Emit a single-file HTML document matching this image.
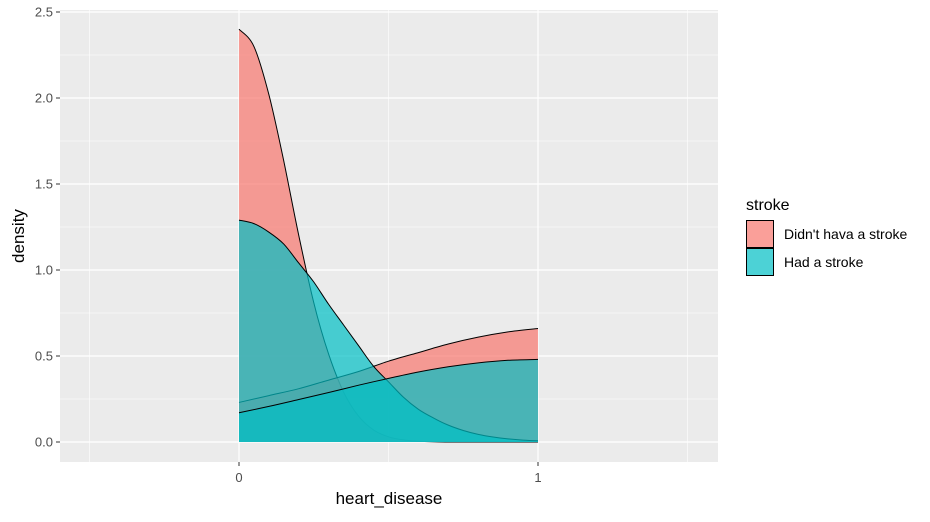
<!DOCTYPE html>
<html><head><meta charset="utf-8"><style>
body{margin:0;background:#fff;font-family:"Liberation Sans",sans-serif}
</style></head><body>
<svg id="chart" width="930" height="517" xmlns="http://www.w3.org/2000/svg" font-family="Liberation Sans, sans-serif">
<rect x="0" y="0" width="930" height="517" fill="#fff"/>
<rect x="60" y="10" width="658" height="452" fill="#EBEBEB"/>
<g id="grid"></g><g id="marks"></g><g id="axes"></g>
<g>
<text x="746" y="210" font-size="16" fill="#000">stroke</text>
<rect x="746.5" y="220.5" width="27" height="27" fill="#F8766D" fill-opacity="0.7" stroke="#000" stroke-width="1"/>
<rect x="746.5" y="248.5" width="27" height="27" fill="#00BFC4" fill-opacity="0.7" stroke="#000" stroke-width="1"/>
<text x="784" y="239" font-size="14" fill="#000">Didn't hava a stroke</text>
<text x="784" y="267" font-size="14" fill="#000">Had a stroke</text>
</g>
</svg>
<script>
const xTicks=[0,1];
const xMinor=[-0.5,0.5,1.5];
const yTicks=[0,0.5,1,1.5,2,2.5];
const yTickLabels=["0.0","0.5","1.0","1.5","2.0","2.5"];
const yMinor=[0.25,0.75,1.25,1.75,2.25];
const xA=[0,0.05,0.1,0.15,0.2,0.25,0.3,0.35,0.4,0.45,0.5,0.55,0.6,0.65,0.7,0.75,0.8,0.85,0.9,0.95,1];
const redA=[2.40,2.30,2.02,1.63,1.20,0.81,0.51,0.29,0.15,0.07,0.03,0.012,0.004,0.001,0,0,0,0,0,0,0];
const tealA=[1.29,1.27,1.22,1.15,1.04,0.93,0.80,0.68,0.56,0.44,0.35,0.26,0.19,0.14,0.098,0.067,0.044,0.029,0.018,0.011,0.007];
const xB=[0,0.1,0.2,0.3,0.4,0.5,0.6,0.7,0.8,0.9,1];
const redB=[0.23,0.27,0.31,0.36,0.41,0.47,0.52,0.57,0.61,0.64,0.66];
const tealB=[0.17,0.207,0.247,0.288,0.33,0.37,0.407,0.437,0.46,0.475,0.48];
const X=v=>239+v*299, Y=v=>442-v*172;
const NS="http://www.w3.org/2000/svg";
function mk(t,a,p){const e=document.createElementNS(NS,t);for(const k in a)e.setAttribute(k,a[k]);p.appendChild(e);return e;}
const grid=document.getElementById('grid'),marks=document.getElementById('marks'),axes=document.getElementById('axes');
yMinor.forEach(v=>{const l=mk('line',{x1:60,x2:718,y1:Y(v),y2:Y(v),stroke:'#fff','stroke-width':0.6},grid);

});
xMinor.forEach(v=>{const l=mk('line',{x1:X(v),x2:X(v),y1:10,y2:462,stroke:'#fff','stroke-width':0.6},grid);

});
yTicks.forEach((v,i)=>{const l=mk('line',{x1:60,x2:718,y1:Y(v),y2:Y(v),stroke:'#fff','stroke-width':1.2},grid);


const t=mk('line',{x1:56,x2:60,y1:Y(v),y2:Y(v),stroke:'#333','stroke-width':1},axes);


const tx=mk('text',{x:53,y:Y(v)+4.5,'text-anchor':'end','font-size':13,fill:'#4D4D4D'},axes);tx.textContent=yTickLabels[i];

});
xTicks.forEach(v=>{const l=mk('line',{x1:X(v),x2:X(v),y1:10,y2:462,stroke:'#fff','stroke-width':1.2},grid);


const t=mk('line',{x1:X(v),x2:X(v),y1:462,y2:466,stroke:'#333','stroke-width':1},axes);


const tx=mk('text',{x:X(v),y:482,'text-anchor':'middle','font-size':13,fill:'#4D4D4D'},axes);tx.textContent=String(v);

});
function smooth(P){
  let d='';
  for(let i=0;i<P.length-1;i++){
    const p0=P[Math.max(0,i-1)],p1=P[i],p2=P[i+1],p3=P[Math.min(P.length-1,i+2)];
    const c1=[p1[0]+(p2[0]-p0[0])/6,p1[1]+(p2[1]-p0[1])/6];
    const c2=[p2[0]-(p3[0]-p1[0])/6,p2[1]-(p3[1]-p1[1])/6];
    d+=' C'+c1.map(n=>n.toFixed(1)).join(',')+' '+c2.map(n=>n.toFixed(1)).join(',')+' '+p2.map(n=>n.toFixed(1)).join(',');
  }
  return d;
}
function curve(xs,ys,col,name){
  const P=xs.map((x,i)=>[X(x),Y(ys[i])]);
  const s=smooth(P);
  const area=mk('path',{d:'M'+X(xs[0])+','+Y(0)+' L'+P[0].join(',')+s+' L'+X(xs[xs.length-1])+','+Y(0)+' Z',fill:col,'fill-opacity':0.7,stroke:'none'},marks);
  
  
  const ln=mk('path',{d:'M'+P[0].join(',')+s,fill:'none',stroke:'#000','stroke-width':1},marks);
  
  
}
curve(xA,redA,'#F8766D','density-no-stroke-a');
curve(xB,redB,'#F8766D','density-no-stroke-b');
curve(xA,tealA,'#00BFC4','density-stroke-a');
curve(xB,tealB,'#00BFC4','density-stroke-b');
const xt=mk('text',{x:389,y:504,'text-anchor':'middle','font-size':17,fill:'#000'},axes);xt.textContent='heart_disease';


const yt=mk('text',{x:24,y:236,'text-anchor':'middle','font-size':17,fill:'#000',transform:'rotate(-90 24 236)'},axes);yt.textContent='density';


</script>
</body></html>
